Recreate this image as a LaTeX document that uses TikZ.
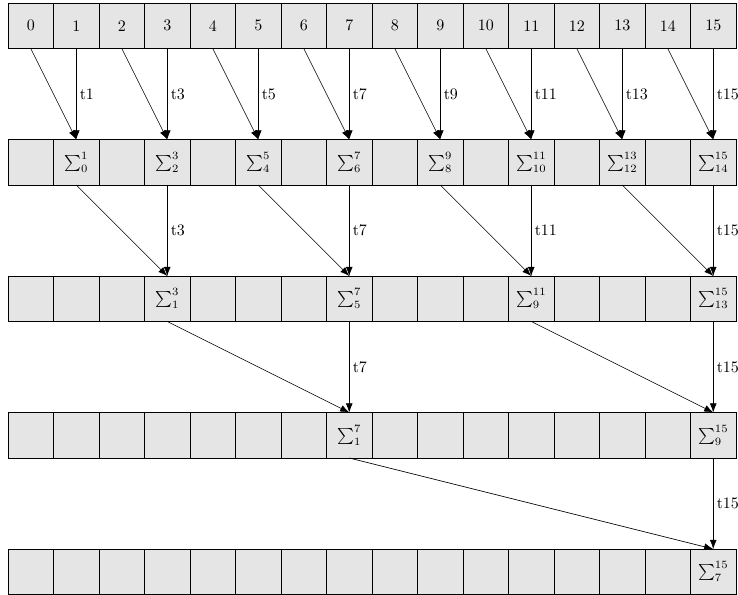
\documentclass[tikz,border=0pt]{standalone}
\usepackage{amsmath,amssymb}
\usetikzlibrary{arrows.meta}

\begin{document}
\begin{tikzpicture}[
  x=1cm, y=1cm,
  cell/.style={draw=black, fill=black!10, minimum width=1cm, minimum height=1cm, inner sep=0pt, outer sep=0pt},
  sumtext/.style={inner sep=0pt},
  tlabel/.style={anchor=west, inner sep=2pt},
  edge/.style={-{Latex[length=2mm]}, draw=black}
]
  \useasboundingbox (-0.676,-12.5) rectangle (15.544,0.566);

  % input row
  \foreach \i in {0,...,15}
    \node[cell] (r0c\i) at (\i,0) {\i};

  % partial sum rows
  \foreach \r in {1,...,4}
    \foreach \i in {0,...,15}
      \node[cell] (r\r c\i) at (\i,-3*\r) {};

  \foreach \i/\lo in {1/0,3/2,5/4,7/6,9/8,11/10,13/12,15/14}
    \node[sumtext] (s1-\i) at (r1c\i) {$\sum_{\lo}^{\i}$};
  \foreach \i/\lo in {3/1,7/5,11/9,15/13}
    \node[sumtext] (s2-\i) at (r2c\i) {$\sum_{\lo}^{\i}$};
  \foreach \i/\lo in {7/1,15/9}
    \node[sumtext] (s3-\i) at (r3c\i) {$\sum_{\lo}^{\i}$};
  \node[sumtext] (s4-15) at (r4c15) {$\sum_{7}^{15}$};

  % level 1
  \foreach \j/\f in {1/0,3/2,5/4,7/6,9/8,11/10,13/12,15/14} {
    \draw[edge] (r0c\f.south) -- (r1c\j.north);
    \draw[edge] (r0c\j.south) -- node[tlabel] {t\j} (r1c\j.north);
  }
  % level 2
  \foreach \j/\f in {3/1,7/5,11/9,15/13} {
    \draw[edge] (r1c\f.south) -- (r2c\j.north);
    \draw[edge] (r1c\j.south) -- node[tlabel] {t\j} (r2c\j.north);
  }
  % level 3
  \foreach \j/\f in {7/3,15/11} {
    \draw[edge] (r2c\f.south) -- (r3c\j.north);
    \draw[edge] (r2c\j.south) -- node[tlabel] {t\j} (r3c\j.north);
  }
  % level 4
  \draw[edge] (r3c7.south) -- (r4c15.north);
  \draw[edge] (r3c15.south) -- node[tlabel] {t15} (r4c15.north);
\end{tikzpicture}
\end{document}
